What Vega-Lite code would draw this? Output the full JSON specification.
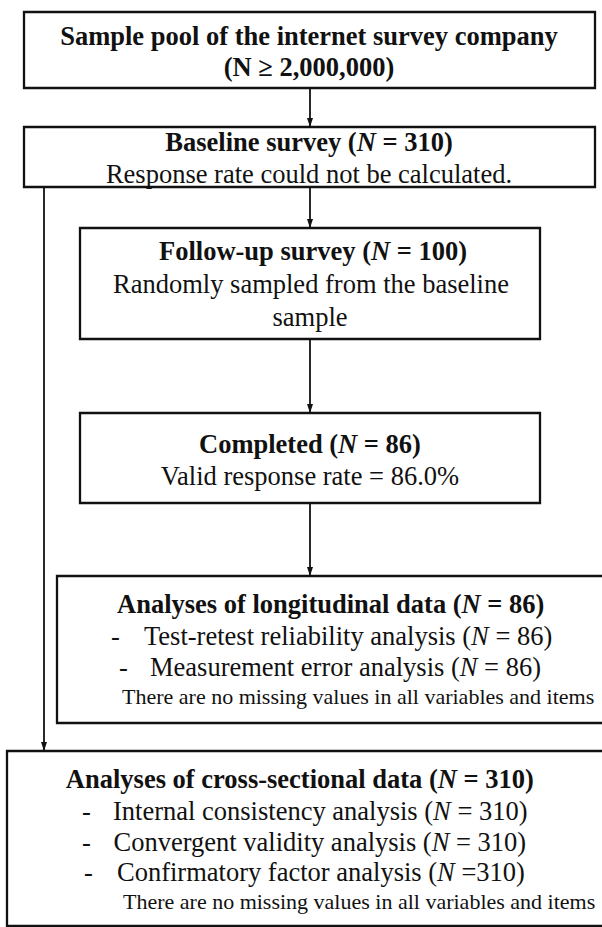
{
  "$schema": "https://vega.github.io/schema/vega-lite/v6.json",
  "width": 602,
  "height": 927,
  "padding": 0,
  "autosize": {"type": "none"},
  "background": "white",
  "config": {"view": {"stroke": null}},
  "datasets": {
    "boxes": [
      {"x": 24, "x2": 595, "y": 12, "y2": 88},
      {"x": 24, "x2": 595, "y": 127, "y2": 187},
      {"x": 80, "x2": 540, "y": 228, "y2": 339},
      {"x": 80, "x2": 540, "y": 413, "y2": 503},
      {"x": 57, "x2": 606, "y": 576, "y2": 723},
      {"x": 7, "x2": 606, "y": 751, "y2": 926}
    ],
    "links": [
      {"x": 310, "y": 88, "y2": 127},
      {"x": 310, "y": 187, "y2": 228},
      {"x": 310, "y": 339, "y2": 413},
      {"x": 310, "y": 503, "y2": 576},
      {"x": 44, "y": 187, "y2": 751}
    ],
    "texts": [
      {"k": "bc", "x": 309, "y": 37, "t": "Sample pool of the internet survey company"},
      {"k": "bc", "x": 309, "y": 68, "t": "(N ≥ 2,000,000)"},
      {"k": "br", "x": 356.7, "y": 143, "t": "Baseline survey ("},
      {"k": "bi", "x": 356.7, "y": 143, "t": "N"},
      {"k": "bl", "x": 382.4, "y": 143, "t": "= 310)"},
      {"k": "rc", "x": 309, "y": 175, "t": "Response rate could not be calculated."},
      {"k": "br", "x": 371, "y": 252, "t": "Follow-up survey ("},
      {"k": "bi", "x": 371, "y": 252, "t": "N"},
      {"k": "bl", "x": 396.7, "y": 252, "t": "= 100)"},
      {"k": "rc", "x": 311, "y": 285, "t": "Randomly sampled from the baseline"},
      {"k": "rc", "x": 310, "y": 318, "t": "sample"},
      {"k": "br", "x": 338.1, "y": 445, "t": "Completed ("},
      {"k": "bi", "x": 338.1, "y": 445, "t": "N"},
      {"k": "bl", "x": 363.8, "y": 445, "t": "= 86)"},
      {"k": "rc", "x": 310, "y": 477, "t": "Valid response rate = 86.0%"},
      {"k": "br", "x": 461.6, "y": 605, "t": "Analyses of longitudinal data ("},
      {"k": "bi", "x": 461.6, "y": 605, "t": "N"},
      {"k": "bl", "x": 487.3, "y": 605, "t": "= 86)"},
      {"k": "rl", "x": 111, "y": 637, "t": "-"},
      {"k": "rr", "x": 471.1, "y": 637, "t": "Test-retest reliability analysis ("},
      {"k": "ri", "x": 471.1, "y": 637, "t": "N"},
      {"k": "rl", "x": 495.4, "y": 637, "t": "= 86)"},
      {"k": "rl", "x": 119, "y": 668, "t": "-"},
      {"k": "rr", "x": 459.8, "y": 668, "t": "Measurement error analysis ("},
      {"k": "ri", "x": 459.8, "y": 668, "t": "N"},
      {"k": "rl", "x": 484.1, "y": 668, "t": "= 86)"},
      {"k": "note", "x": 122, "y": 697, "t": "There are no missing values in all variables and items"},
      {"k": "br", "x": 437.8, "y": 780, "t": "Analyses of cross-sectional data ("},
      {"k": "bi", "x": 437.8, "y": 780, "t": "N"},
      {"k": "bl", "x": 463.5, "y": 780, "t": "= 310)"},
      {"k": "rl", "x": 82, "y": 812, "t": "-"},
      {"k": "rr", "x": 433.1, "y": 812, "t": "Internal consistency analysis ("},
      {"k": "ri", "x": 433.1, "y": 812, "t": "N"},
      {"k": "rl", "x": 457.4, "y": 812, "t": "= 310)"},
      {"k": "rl", "x": 82, "y": 843, "t": "-"},
      {"k": "rr", "x": 431.7, "y": 843, "t": "Convergent validity analysis ("},
      {"k": "ri", "x": 431.7, "y": 843, "t": "N"},
      {"k": "rl", "x": 456, "y": 843, "t": "= 310)"},
      {"k": "rl", "x": 84, "y": 873, "t": "-"},
      {"k": "rr", "x": 437.1, "y": 873, "t": "Confirmatory factor analysis ("},
      {"k": "ri", "x": 437.1, "y": 873, "t": "N"},
      {"k": "rl", "x": 461.4, "y": 873, "t": "=310)"},
      {"k": "note", "x": 123, "y": 902, "t": "There are no missing values in all variables and items"}
    ]
  },
  "resolve": {"scale": {"x": "shared", "y": "shared"}},
  "layer": [
    {
      "data": {"name": "boxes"},
      "mark": {"type": "rect", "fill": "white", "stroke": "#111", "strokeWidth": 2.3},
      "encoding": {
        "x": {"field": "x", "type": "quantitative", "scale": {"domain": [0, 602], "nice": false, "zero": false}, "axis": null},
        "x2": {"field": "x2"},
        "y": {"field": "y", "type": "quantitative", "scale": {"domain": [0, 927], "nice": false, "zero": false, "reverse": true}, "axis": null},
        "y2": {"field": "y2"}
      }
    },
    {
      "data": {"name": "links"},
      "mark": {"type": "rule", "stroke": "#111", "strokeWidth": 1.8},
      "encoding": {
        "x": {"field": "x", "type": "quantitative"},
        "y": {"field": "y", "type": "quantitative"},
        "y2": {"field": "y2"}
      }
    },
    {
      "data": {"name": "links"},
      "mark": {"type": "point", "shape": "M-1,-3L1,-3L0,0Z", "filled": true, "fill": "#111", "stroke": null, "size": 36, "opacity": 1},
      "encoding": {
        "x": {"field": "x", "type": "quantitative"},
        "y": {"field": "y2", "type": "quantitative"}
      }
    },
    {
      "data": {"name": "texts"},
      "transform": [{"filter": "datum.k === 'bc'"}],
      "mark": {"type": "text", "font": "Liberation Serif", "fontSize": 26.5, "fontWeight": "bold", "align": "center", "baseline": "middle", "color": "#111"},
      "encoding": {"x": {"field": "x", "type": "quantitative"}, "y": {"field": "y", "type": "quantitative"}, "text": {"field": "t"}}
    },
    {
      "data": {"name": "texts"},
      "transform": [{"filter": "datum.k === 'br'"}],
      "mark": {"type": "text", "font": "Liberation Serif", "fontSize": 26.5, "fontWeight": "bold", "align": "right", "baseline": "middle", "color": "#111"},
      "encoding": {"x": {"field": "x", "type": "quantitative"}, "y": {"field": "y", "type": "quantitative"}, "text": {"field": "t"}}
    },
    {
      "data": {"name": "texts"},
      "transform": [{"filter": "datum.k === 'bi'"}],
      "mark": {"type": "text", "font": "Liberation Serif", "fontSize": 26.5, "fontWeight": "bold", "fontStyle": "italic", "align": "left", "baseline": "middle", "color": "#111"},
      "encoding": {"x": {"field": "x", "type": "quantitative"}, "y": {"field": "y", "type": "quantitative"}, "text": {"field": "t"}}
    },
    {
      "data": {"name": "texts"},
      "transform": [{"filter": "datum.k === 'bl'"}],
      "mark": {"type": "text", "font": "Liberation Serif", "fontSize": 26.5, "fontWeight": "bold", "align": "left", "baseline": "middle", "color": "#111"},
      "encoding": {"x": {"field": "x", "type": "quantitative"}, "y": {"field": "y", "type": "quantitative"}, "text": {"field": "t"}}
    },
    {
      "data": {"name": "texts"},
      "transform": [{"filter": "datum.k === 'rc'"}],
      "mark": {"type": "text", "font": "Liberation Serif", "fontSize": 26.5, "align": "center", "baseline": "middle", "color": "#111"},
      "encoding": {"x": {"field": "x", "type": "quantitative"}, "y": {"field": "y", "type": "quantitative"}, "text": {"field": "t"}}
    },
    {
      "data": {"name": "texts"},
      "transform": [{"filter": "datum.k === 'rr'"}],
      "mark": {"type": "text", "font": "Liberation Serif", "fontSize": 26.5, "align": "right", "baseline": "middle", "color": "#111"},
      "encoding": {"x": {"field": "x", "type": "quantitative"}, "y": {"field": "y", "type": "quantitative"}, "text": {"field": "t"}}
    },
    {
      "data": {"name": "texts"},
      "transform": [{"filter": "datum.k === 'ri'"}],
      "mark": {"type": "text", "font": "Liberation Serif", "fontSize": 26.5, "fontStyle": "italic", "align": "left", "baseline": "middle", "color": "#111"},
      "encoding": {"x": {"field": "x", "type": "quantitative"}, "y": {"field": "y", "type": "quantitative"}, "text": {"field": "t"}}
    },
    {
      "data": {"name": "texts"},
      "transform": [{"filter": "datum.k === 'rl'"}],
      "mark": {"type": "text", "font": "Liberation Serif", "fontSize": 26.5, "align": "left", "baseline": "middle", "color": "#111"},
      "encoding": {"x": {"field": "x", "type": "quantitative"}, "y": {"field": "y", "type": "quantitative"}, "text": {"field": "t"}}
    },
    {
      "data": {"name": "texts"},
      "transform": [{"filter": "datum.k === 'note'"}],
      "mark": {"type": "text", "font": "Liberation Serif", "fontSize": 22, "align": "left", "baseline": "middle", "color": "#111"},
      "encoding": {"x": {"field": "x", "type": "quantitative"}, "y": {"field": "y", "type": "quantitative"}, "text": {"field": "t"}}
    }
  ]
}
